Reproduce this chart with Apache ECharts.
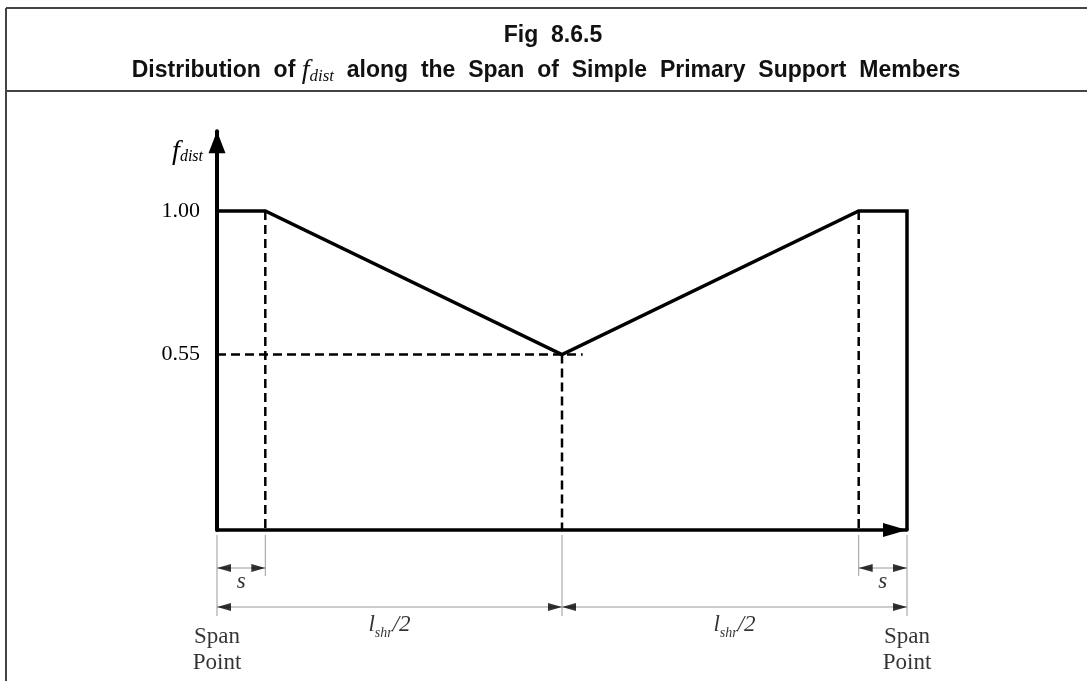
<!DOCTYPE html>
<html>
<head>
<meta charset="utf-8">
<script src="https://cdn.jsdelivr.net/npm/echarts@6/dist/echarts.min.js"></script>
<style>
  html, body { margin: 0; padding: 0; background: #fff; }
  #chart { width: 1087px; height: 681px; }
</style>
</head>
<body>
<div id="chart"></div>
<script>
// ---- data ----
const titleLine1 = 'Fig  8.6.5';
const titleBefore = 'Distribution  of ';
const titleAfter = '  along  the  Span  of  Simple  Primary  Support  Members';
const yAxisName = ['f', 'dist'];
// f_dist profile along the span (last point drops to the axis at the far support)
const profileX = [0, 0.7, 5, 9.3, 10, 10];
const profileY = [1.00, 1.00, 0.55, 1.00, 1.00, 0];
const yTickValues = [0.55, 1.00];
const axisMax = { x: 10, y: 1.25 };
// dashed guide lines [x1, y1, x2, y2]
const guides = [
  [0.7, 1.00, 0.7, 0],
  [5, 0.55, 5, 0],
  [9.3, 1.00, 9.3, 0],
  [0, 0.55, 5.3, 0.55]
];
// dimension segments [from, to, label]
const sDims = [[0, 0.7, 's'], [9.3, 10, 's']];
const halfDims = [[0, 5, 'l_shr/2'], [5, 10, 'l_shr/2']];
const longExt = [0, 5, 10];
const shortExt = [0.7, 9.3];
const spanLabels = [[0, 'Span\nPoint'], [10, 'Span\nPoint']];

// ---- layout / styles ----
const SERIF = "'Liberation Serif', 'DejaVu Serif', serif";
const TITLEFONT = "'Liberation Sans Narrow', 'Arial Narrow', 'Liberation Sans', Arial, sans-serif";
const EXT_LONG = 86, EXT_SHORT = 46, EXT_START = 5;
const DIM_S_Y = 38, DIM_L_Y = 77, LBL_S_Y = 52, LBL_L_Y = 95, LBL_SPAN_Y = 120;
const ARROW_W = 8, ARROW_L = 14;
const dimGrey = '#9a9a9a';

const series = [];
// profile
series.push({
  type: 'line', xAxisIndex: 0, yAxisIndex: 0, symbol: 'none', animation: false,
  data: profileX.map((x, i) => [x, profileY[i]]),
  lineStyle: { color: '#000', width: 3.5, join: 'miter' }, z: 5
});
// dashed guides
guides.forEach(g => series.push({
  type: 'line', xAxisIndex: 0, yAxisIndex: 0, symbol: 'none', animation: false,
  data: [[g[0], g[1]], [g[2], g[3]]],
  lineStyle: { color: '#000', width: 2.5, type: [9, 5] }, z: 3
}));
// extension lines (grid 1 = dimension area, y in px below axis)
longExt.forEach(x => series.push({
  type: 'line', xAxisIndex: 1, yAxisIndex: 1, symbol: 'none', animation: false,
  data: [[x, EXT_START], [x, EXT_LONG]], lineStyle: { color: dimGrey, width: 1 }
}));
shortExt.forEach(x => series.push({
  type: 'line', xAxisIndex: 1, yAxisIndex: 1, symbol: 'none', animation: false,
  data: [[x, EXT_START], [x, EXT_SHORT]], lineStyle: { color: dimGrey, width: 1 }
}));
// dimension lines + arrowheads
const arrowPts = [];
function dimLine(d, y) {
  series.push({
    type: 'line', xAxisIndex: 1, yAxisIndex: 1, symbol: 'none', animation: false,
    data: [[d[0], y], [d[1], y]], lineStyle: { color: dimGrey, width: 1 }
  });
  arrowPts.push({ value: [d[0], y], symbolRotate: 90, symbolOffset: [ARROW_L / 2, 0] });
  arrowPts.push({ value: [d[1], y], symbolRotate: -90, symbolOffset: [-ARROW_L / 2, 0] });
}
sDims.forEach(d => dimLine(d, DIM_S_Y));
halfDims.forEach(d => dimLine(d, DIM_L_Y));
series.push({
  type: 'scatter', xAxisIndex: 1, yAxisIndex: 1, animation: false,
  symbol: 'triangle', symbolSize: [ARROW_W, ARROW_L],
  itemStyle: { color: '#000' }, data: arrowPts, z: 4
});
// dimension labels
function labelFor(t) {
  if (t === 's') return '{it|s}';
  if (t === 'l_shr/2') return '{it|l}{sub|shr}{it|/2}';
  return t;
}
const labelPts = [];
sDims.forEach(d => labelPts.push({ value: [(d[0] + d[1]) / 2, LBL_S_Y], name: d[2] }));
halfDims.forEach(d => labelPts.push({ value: [(d[0] + d[1]) / 2, LBL_L_Y], name: d[2] }));
series.push({
  type: 'scatter', xAxisIndex: 1, yAxisIndex: 1, animation: false,
  symbolSize: 0, data: labelPts,
  label: {
    show: true, position: 'inside',
    formatter: p => labelFor(p.name),
    rich: {
      it: { fontFamily: SERIF, fontStyle: 'italic', fontSize: 23, color: '#000', verticalAlign: 'middle' },
      sub: { fontFamily: SERIF, fontStyle: 'italic', fontSize: 14, color: '#000', padding: [16, 0, 0, 0] }
    }
  }
});
series.push({
  type: 'scatter', xAxisIndex: 1, yAxisIndex: 1, animation: false,
  symbolSize: 0, data: spanLabels.map(s => ({ value: [s[0], LBL_SPAN_Y], name: s[1] })),
  label: {
    show: true, position: 'inside', formatter: p => p.name,
    fontFamily: SERIF, fontSize: 23, lineHeight: 26, color: '#000', align: 'center'
  }
});

const option = {
  backgroundColor: '#fff',
  animation: false,
  title: [
    {
      text: titleLine1, left: 548, top: 19, textAlign: 'center',
      textStyle: { fontFamily: TITLEFONT, fontWeight: 'bold', fontSize: 23, lineHeight: 23, color: '#111' }
    },
    {
      text: '{b|' + titleBefore + '}{fi|f}{fs|dist}{b|' + titleAfter + '}',
      left: 541, top: 51, textAlign: 'center',
      textStyle: {
        rich: {
          b: { fontFamily: TITLEFONT, fontWeight: 'bold', fontSize: 23, color: '#111' },
          fi: { fontFamily: SERIF, fontStyle: 'italic', fontWeight: 'normal', fontSize: 28, color: '#111' },
          fs: { fontFamily: SERIF, fontStyle: 'italic', fontWeight: 'normal', fontSize: 17, color: '#111', padding: [12, 0, 0, 0] }
        }
      }
    }
  ],
  graphic: [
    { type: 'line', shape: { x1: 6, y1: 8, x2: 1087, y2: 8 }, style: { stroke: '#444', lineWidth: 2 } },
    { type: 'line', shape: { x1: 6, y1: 8, x2: 6, y2: 681 }, style: { stroke: '#444', lineWidth: 2 } },
    { type: 'line', shape: { x1: 6, y1: 91, x2: 1087, y2: 91 }, style: { stroke: '#444', lineWidth: 2 } }
  ],
  grid: [
    { left: 217, right: 180, top: 530 - axisMax.y * 319, bottom: 151, containLabel: false },
    { left: 217, right: 180, top: 530, bottom: 0, containLabel: false }
  ],
  xAxis: [
    {
      type: 'value', gridIndex: 0, min: 0, max: axisMax.x,
      axisLine: { show: true, lineStyle: { color: '#000', width: 3.5 }, symbol: ['none', 'triangle'], symbolSize: [14, 24], symbolOffset: [0, -12] },
      axisTick: { show: false }, axisLabel: { show: false }, splitLine: { show: false }
    },
    {
      type: 'value', gridIndex: 1, min: 0, max: axisMax.x, show: false
    }
  ],
  yAxis: [
    {
      type: 'value', gridIndex: 0, min: 0, max: axisMax.y,
      name: '{f|' + yAxisName[0] + '}{s|' + yAxisName[1] + '}',
      nameLocation: 'end', nameGap: -20,
      nameTextStyle: {
        align: 'right', verticalAlign: 'middle', padding: [0, 14, 0, 0],
        rich: {
          f: { fontFamily: SERIF, fontStyle: 'italic', fontSize: 28, color: '#000' },
          s: { fontFamily: SERIF, fontStyle: 'italic', fontSize: 16, color: '#000', padding: [12, 0, 0, 0] }
        }
      },
      axisLine: { show: true, lineStyle: { color: '#000', width: 4 }, symbol: ['none', 'triangle'], symbolSize: [17, 22], symbolOffset: [0, -11] },
      axisTick: { show: false }, splitLine: { show: false },
      axisLabel: {
        show: true, customValues: yTickValues, margin: 17,
        formatter: v => v.toFixed(2), fontFamily: SERIF, fontSize: 22, color: '#000'
      }
    },
    {
      type: 'value', gridIndex: 1, min: 0, max: 151, inverse: true, show: false
    }
  ],
  series: series
};

const chart = echarts.init(document.getElementById('chart'), null, { renderer: 'canvas' });
chart.setOption(option);
</script>
</body>
</html>
